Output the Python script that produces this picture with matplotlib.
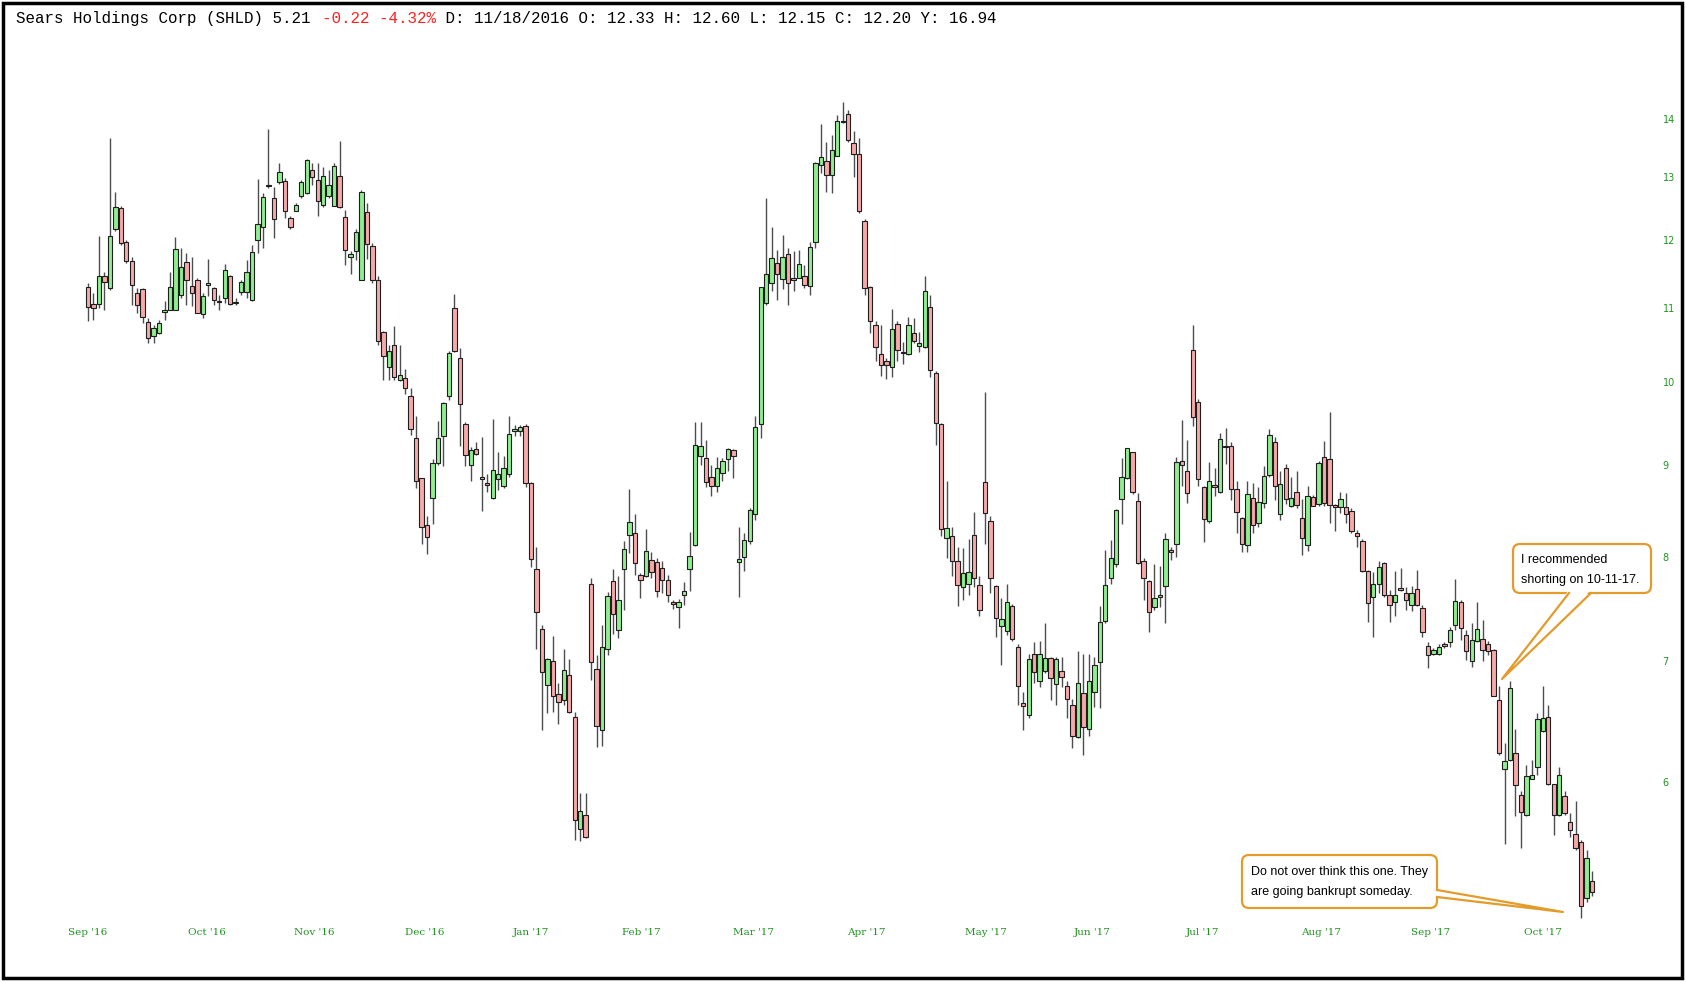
import matplotlib.pyplot as plt
import numpy as np
from matplotlib.patches import FancyBboxPatch, Polygon, Rectangle
from matplotlib.ticker import NullLocator

W, H = 1686, 982

# daily OHLC (Sep 2016 - Oct 2017)
opens = [11.30, 11.05, 11.05, 11.45, 11.28, 12.16, 12.50, 11.97, 11.67, 11.21,
         11.26, 10.80, 10.61, 10.65, 10.94, 10.97, 10.97, 11.18, 11.66, 11.31,
         11.39, 10.91, 11.32, 11.28, 11.10, 11.13, 11.45, 11.06, 11.22, 11.22,
         11.11, 12.00, 12.19, 12.85, 12.66, 12.92, 12.93, 12.33, 12.45, 12.69,
         12.73, 13.12, 12.95, 12.54, 12.69, 12.53, 13.02, 12.35, 11.74, 11.82,
         11.40, 12.43, 11.90, 11.40, 10.66, 10.19, 10.49, 10.03, 10.05, 9.82,
         9.31, 8.85, 8.33, 8.62, 9.02, 9.33, 9.82, 10.99, 10.32, 9.48,
         8.99, 9.18, 8.86, 8.79, 8.62, 8.83, 8.76, 8.89, 9.40, 9.39,
         9.46, 8.79, 7.87, 7.29, 6.79, 7.00, 6.71, 6.66, 6.88, 6.52,
         5.65, 5.75, 7.72, 6.93, 6.41, 7.11, 7.75, 7.28, 7.87, 8.22,
         8.25, 7.81, 7.80, 7.97, 7.94, 7.88, 7.76, 7.55, 7.50, 7.62,
         7.87, 8.12, 9.10, 9.07, 8.86, 8.76, 8.90, 9.06, 9.17, 7.94,
         8.00, 8.16, 8.45, 9.48, 11.06, 11.35, 11.65, 11.41, 11.78, 11.43,
         11.43, 11.46, 11.31, 11.97, 13.20, 13.27, 13.04, 13.36, 13.96, 14.10,
         13.57, 13.39, 12.29, 11.30, 10.76, 10.36, 10.28, 10.20, 10.77, 10.39,
         10.36, 10.65, 10.47, 10.46, 11.01, 10.12, 9.48, 8.19, 8.21, 7.95,
         7.69, 7.72, 8.22, 7.71, 8.80, 8.37, 7.70, 7.32, 7.27, 7.51,
         7.13, 6.63, 6.53, 7.06, 6.82, 6.91, 7.03, 6.80, 6.91, 6.78,
         6.62, 6.35, 6.72, 6.42, 6.73, 6.99, 7.37, 7.78, 7.92, 8.61,
         8.85, 9.14, 8.59, 7.96, 7.75, 7.50, 7.60, 7.70, 8.07, 8.13,
         9.04, 8.92, 10.42, 9.75, 8.75, 8.37, 8.77, 8.69, 9.22, 9.21,
         8.72, 8.40, 8.12, 8.62, 8.35, 8.57, 8.88, 9.26, 8.45, 8.96,
         8.53, 8.69, 8.41, 8.12, 8.63, 8.56, 9.09, 9.06, 8.55, 8.52,
         8.52, 8.48, 8.24, 8.16, 7.85, 7.60, 7.72, 7.93, 7.62, 7.55,
         7.68, 7.64, 7.52, 7.68, 7.49, 7.14, 7.06, 7.06, 7.15, 7.17,
         7.33, 7.55, 7.24, 7.00, 7.18, 7.20, 7.15, 7.10, 6.66, 6.10,
         6.17, 6.22, 5.90, 5.75, 6.02, 6.11, 6.40, 6.52, 5.98, 5.75,
         5.89, 5.70, 5.61, 5.55, 5.17, 5.28]
highs = [11.35, 11.21, 12.05, 11.52, 13.67, 12.76, 12.52, 12.00, 11.74, 11.28,
         11.28, 10.85, 10.76, 10.83, 11.09, 11.52, 12.04, 11.87, 11.80, 11.74,
         11.43, 11.21, 11.70, 11.30, 11.18, 11.63, 11.47, 11.13, 11.40, 11.69,
         11.92, 12.96, 12.73, 13.82, 12.84, 13.24, 12.98, 12.36, 12.57, 12.95,
         13.31, 13.24, 13.23, 13.17, 13.12, 13.23, 13.62, 12.47, 11.82, 12.16,
         12.78, 12.58, 11.95, 11.45, 10.68, 10.49, 10.74, 10.48, 10.17, 9.92,
         9.57, 8.85, 8.43, 9.06, 9.51, 9.75, 10.41, 11.19, 10.45, 9.50,
         9.20, 9.26, 9.32, 8.89, 9.54, 9.15, 9.10, 9.57, 9.47, 9.47,
         9.48, 8.80, 8.10, 7.33, 7.03, 7.23, 6.81, 7.11, 7.02, 6.56,
         5.91, 5.91, 7.78, 7.05, 7.33, 7.65, 7.87, 7.80, 8.16, 8.72,
         8.45, 7.83, 8.29, 8.05, 7.99, 7.96, 7.81, 7.57, 7.58, 7.74,
         8.26, 9.50, 9.50, 9.29, 8.99, 9.09, 9.07, 9.19, 9.18, 8.31,
         8.24, 8.51, 9.57, 11.30, 12.66, 12.19, 11.84, 12.07, 11.87, 11.82,
         11.84, 11.61, 11.97, 13.26, 13.92, 13.60, 13.72, 14.08, 14.31, 14.17,
         13.78, 13.67, 12.32, 11.31, 10.81, 10.76, 10.31, 10.98, 10.81, 10.53,
         10.87, 10.86, 10.66, 11.46, 11.18, 10.14, 9.49, 8.81, 8.31, 8.10,
         8.09, 8.18, 8.47, 7.80, 9.88, 8.43, 7.71, 7.59, 7.72, 7.53,
         7.15, 6.73, 7.06, 7.17, 7.18, 7.35, 7.04, 7.04, 7.04, 6.82,
         6.67, 7.09, 7.06, 7.06, 7.04, 7.51, 8.07, 8.17, 8.50, 9.07,
         9.19, 9.15, 8.68, 7.99, 7.76, 7.92, 7.90, 8.25, 8.10, 9.09,
         9.53, 9.29, 10.76, 9.79, 8.76, 9.03, 8.96, 9.37, 9.43, 9.26,
         8.81, 8.42, 8.81, 8.79, 8.74, 8.98, 9.42, 9.32, 8.92, 9.01,
         8.86, 8.93, 8.61, 8.76, 8.66, 9.04, 9.28, 9.62, 8.56, 8.69,
         8.68, 8.51, 8.28, 8.18, 7.86, 7.84, 7.96, 7.94, 7.67, 7.85,
         7.88, 7.69, 7.70, 7.86, 7.52, 7.17, 7.12, 7.15, 7.17, 7.31,
         7.77, 7.57, 7.28, 7.35, 7.55, 7.38, 7.18, 7.11, 6.78, 6.30,
         6.82, 6.42, 5.93, 6.13, 6.17, 6.55, 6.78, 6.62, 5.98, 6.11,
         5.93, 5.76, 5.85, 5.57, 5.50, 5.35]
lows = [10.81, 10.83, 10.99, 10.96, 11.25, 12.13, 11.92, 11.64, 11.04, 10.92,
        10.79, 10.52, 10.52, 10.63, 10.83, 10.96, 10.96, 11.13, 11.04, 11.02,
        10.92, 10.85, 11.16, 11.04, 10.96, 11.06, 11.04, 11.03, 11.18, 11.13,
        11.09, 11.80, 11.87, 12.82, 12.03, 12.89, 12.34, 12.16, 12.45, 12.66,
        12.72, 12.86, 12.36, 12.51, 12.66, 12.52, 12.50, 11.61, 11.49, 11.69,
        11.39, 11.70, 11.35, 10.48, 10.03, 10.03, 10.03, 10.01, 9.85, 9.35,
        8.73, 8.13, 8.03, 8.34, 9.00, 8.98, 9.78, 10.39, 9.21, 8.98,
        8.81, 9.11, 8.48, 8.69, 8.61, 8.71, 8.73, 8.86, 9.33, 9.33,
        8.75, 7.89, 7.11, 6.41, 6.55, 6.56, 6.46, 6.62, 6.55, 5.57,
        5.56, 5.58, 6.83, 6.27, 6.28, 7.05, 7.25, 7.21, 7.47, 8.04,
        7.81, 7.59, 7.79, 7.78, 7.60, 7.64, 7.55, 7.48, 7.30, 7.52,
        7.66, 8.11, 8.99, 8.75, 8.64, 8.69, 8.81, 8.92, 8.85, 7.60,
        7.85, 8.13, 8.38, 9.31, 11.04, 11.23, 11.11, 11.26, 11.03, 11.23,
        11.42, 11.28, 11.18, 11.87, 13.06, 12.75, 12.74, 13.35, 13.93, 13.60,
        13.00, 12.41, 11.18, 10.65, 10.27, 10.08, 10.04, 10.07, 10.27, 10.23,
        10.35, 10.51, 10.39, 10.45, 10.07, 9.23, 8.21, 7.99, 7.80, 7.51,
        7.57, 7.62, 7.69, 7.41, 8.13, 7.64, 7.22, 6.96, 7.24, 7.18,
        6.62, 6.41, 6.51, 6.81, 6.77, 6.89, 6.66, 6.62, 6.77, 6.51,
        6.26, 6.34, 6.21, 6.36, 6.60, 6.59, 7.35, 7.72, 7.89, 8.34,
        8.83, 8.67, 7.92, 7.57, 7.26, 7.47, 7.50, 7.35, 7.97, 8.00,
        8.76, 8.57, 9.45, 8.76, 8.15, 8.35, 8.64, 8.68, 9.01, 8.60,
        8.24, 8.05, 8.05, 8.24, 8.31, 8.51, 8.86, 8.60, 8.38, 8.56,
        8.52, 8.51, 8.02, 8.06, 8.53, 8.54, 8.53, 8.35, 8.27, 8.46,
        8.35, 8.24, 8.10, 7.84, 7.36, 7.22, 7.64, 7.60, 7.36, 7.41,
        7.66, 7.47, 7.46, 7.51, 7.22, 6.94, 7.05, 7.05, 7.12, 7.13,
        7.28, 7.19, 7.01, 6.95, 7.17, 7.00, 7.05, 6.69, 6.21, 5.54,
        6.16, 5.74, 5.51, 5.74, 6.02, 6.05, 6.39, 5.97, 5.60, 5.74,
        5.75, 5.59, 5.50, 5.04, 5.14, 5.18]
closes = [11.01, 10.99, 11.45, 11.37, 12.06, 12.51, 11.95, 11.67, 11.33, 11.04,
          10.87, 10.58, 10.72, 10.79, 10.97, 11.29, 11.86, 11.59, 11.40, 11.21,
          10.93, 11.16, 11.35, 11.11, 11.08, 11.54, 11.05, 11.08, 11.37, 11.51,
          11.81, 12.24, 12.67, 12.87, 12.32, 13.09, 12.45, 12.20, 12.54, 12.91,
          13.29, 13.00, 12.60, 13.01, 12.87, 13.19, 12.51, 11.84, 11.78, 12.11,
          12.76, 11.94, 11.40, 10.54, 10.34, 10.41, 10.06, 10.09, 9.92, 9.42,
          8.81, 8.31, 8.20, 9.02, 9.31, 9.74, 10.38, 10.40, 9.72, 9.11,
          9.17, 9.12, 8.83, 8.77, 8.94, 8.89, 8.96, 9.36, 9.41, 9.44,
          8.79, 7.98, 7.45, 6.90, 7.02, 6.69, 6.64, 6.92, 6.56, 5.71,
          5.78, 5.59, 6.99, 6.44, 7.13, 7.61, 7.43, 7.57, 8.08, 8.36,
          7.93, 7.76, 8.06, 7.84, 7.66, 7.76, 7.62, 7.53, 7.55, 7.66,
          8.01, 9.23, 9.22, 8.80, 8.76, 8.96, 9.04, 9.18, 9.10, 7.98,
          8.17, 8.49, 9.44, 11.29, 11.48, 11.72, 11.48, 11.74, 11.35, 11.39,
          11.63, 11.33, 11.89, 13.23, 13.34, 13.03, 13.46, 13.97, 13.94, 13.63,
          13.38, 12.45, 11.28, 10.82, 10.46, 10.22, 10.22, 10.71, 10.42, 10.38,
          10.76, 10.54, 10.51, 11.23, 10.16, 9.49, 8.29, 8.30, 7.96, 7.71,
          7.83, 7.84, 7.78, 7.47, 8.46, 7.78, 7.40, 7.39, 7.55, 7.20,
          6.78, 6.61, 7.02, 6.90, 7.06, 7.03, 6.85, 7.02, 6.86, 6.67,
          6.36, 6.81, 6.43, 6.82, 6.96, 7.36, 7.71, 7.99, 8.49, 8.86,
          9.19, 8.69, 7.93, 7.78, 7.45, 7.59, 7.62, 8.18, 8.05, 9.03,
          9.00, 8.68, 9.56, 8.83, 8.39, 8.81, 8.75, 9.30, 9.20, 8.72,
          8.47, 8.13, 8.67, 8.33, 8.58, 8.87, 9.35, 8.76, 8.78, 8.61,
          8.62, 8.55, 8.19, 8.64, 8.54, 9.02, 8.57, 8.55, 8.52, 8.61,
          8.45, 8.27, 8.21, 7.85, 7.54, 7.72, 7.89, 7.62, 7.52, 7.62,
          7.67, 7.57, 7.64, 7.52, 7.26, 7.05, 7.10, 7.13, 7.14, 7.28,
          7.56, 7.30, 7.09, 7.19, 7.29, 7.10, 7.09, 6.69, 6.22, 6.16,
          6.76, 5.97, 5.77, 6.04, 6.05, 6.50, 6.51, 5.98, 5.75, 6.05,
          5.76, 5.64, 5.51, 5.12, 5.44, 5.21]

months = ["Sep '16", "Oct '16", "Nov '16", "Dec '16", "Jan '17", "Feb '17", "Mar '17",
          "Apr '17", "May '17", "Jun '17", "Jul '17", "Aug '17", "Sep '17", "Oct '17"]
month_pos = [0, 21.8, 41.3, 61.5, 81.0, 101.2, 121.7, 142.3, 164.1, 183.6,
             203.7, 225.5, 245.5, 266.0]
price_ticks = [6, 7, 8, 9, 10, 11, 12, 13, 14]

o = np.array(opens)
h = np.array(highs)
l = np.array(lows)
c = np.array(closes)
x = np.arange(len(o))

GREEN = '#90ee90'
RED = '#f5a9a9'
LABEL = '#1f931f'
ORANGE = '#e39b2b'

fig = plt.figure(figsize=(W / 100, H / 100), dpi=100)
fig.patch.set_facecolor('white')

# price panel, pixel box 20..1650 x 40..925
ax = fig.add_axes([20 / W, (H - 925) / H, 1630 / W, 885 / H])
ax.set_yscale('log')
ax.set_ylim(4.994, 15.49)
ax.set_xlim(-12.43, 285.6)

ax.vlines(x, l, h, color='#4d4d4d', lw=1.0, zorder=1)
body_lo = np.minimum(o, c)
body_h = np.maximum(np.abs(c - o), 0.015)
cols = np.where(c >= o, GREEN, RED)
ax.bar(x, body_h, bottom=body_lo, width=0.8, color=cols,
       edgecolor='#1e1e1e', linewidth=0.8, zorder=2)

for s in ax.spines.values():
    s.set_visible(False)
ax.yaxis.tick_right()
ax.yaxis.set_minor_locator(NullLocator())
ax.set_yticks(price_ticks)
ax.set_yticklabels([str(t) for t in price_ticks])
ax.tick_params(axis='y', length=0, pad=9, labelsize=7, labelcolor=LABEL)
ax.set_xticks(month_pos)
ax.set_xticklabels(months, family='DejaVu Serif', fontsize=7.5)
ax.tick_params(axis='x', length=0, pad=2, labelcolor=LABEL)

# overlay in pixel coordinates for header, frame and callouts
ov = fig.add_axes([0, 0, 1, 1], zorder=10)
ov.set_xlim(0, W)
ov.set_ylim(H, 0)
ov.axis('off')
ov.patch.set_alpha(0)

ov.add_patch(Rectangle((3, 3), 1679, 975, fill=False, lw=2.5, ec='black'))

# header line, monospace so pieces line up by character count
cw = 9.55
fs = cw / 0.6 / (100 / 72)
parts = [("Sears Holdings Corp (SHLD) 5.21 ", 'black'),
         ("-0.22 -4.32%", '#ff2020'),
         (" D: 11/18/2016 O: 12.33 H: 12.60 L: 12.15 C: 12.20 Y: 16.94", 'black')]
px = 16
for txt, col in parts:
    ov.text(px, 18, txt, color=col, family='Liberation Mono', fontsize=fs,
            va='center', ha='left')
    px += len(txt) * cw

note_font = 'Liberation Sans'
nfs = 9

# callout 1
ov.add_patch(FancyBboxPatch((1513, 544), 138, 49,
                            boxstyle='round,pad=0,rounding_size=7',
                            fc='white', ec=ORANGE, lw=1.6, zorder=3))
ov.add_patch(Polygon([(1569, 590), (1502, 679), (1591, 590)],
                     closed=True, fc='white', ec='none', zorder=4))
ov.plot([1569, 1502, 1591], [593, 679, 593], color=ORANGE, lw=1.6, zorder=5)
ov.text(1521, 560, "I recommended", family=note_font, fontsize=nfs,
        va='center', ha='left', zorder=6)
ov.text(1521, 580, "shorting on 10-11-17.", family=note_font, fontsize=nfs,
        va='center', ha='left', zorder=6)

# callout 2
ov.add_patch(FancyBboxPatch((1242, 855), 195, 53,
                            boxstyle='round,pad=0,rounding_size=7',
                            fc='white', ec=ORANGE, lw=1.6, zorder=3))
ov.add_patch(Polygon([(1434, 890), (1563, 912), (1434, 897)],
                     closed=True, fc='white', ec='none', zorder=4))
ov.plot([1437, 1563, 1437], [890, 912, 897], color=ORANGE, lw=1.6, zorder=5)
ov.text(1251, 872, "Do not over think this one. They", family=note_font,
        fontsize=nfs, va='center', ha='left', zorder=6)
ov.text(1251, 892, "are going bankrupt someday.", family=note_font,
        fontsize=nfs, va='center', ha='left', zorder=6)

fig.savefig('out.png', dpi=100, facecolor='white')
